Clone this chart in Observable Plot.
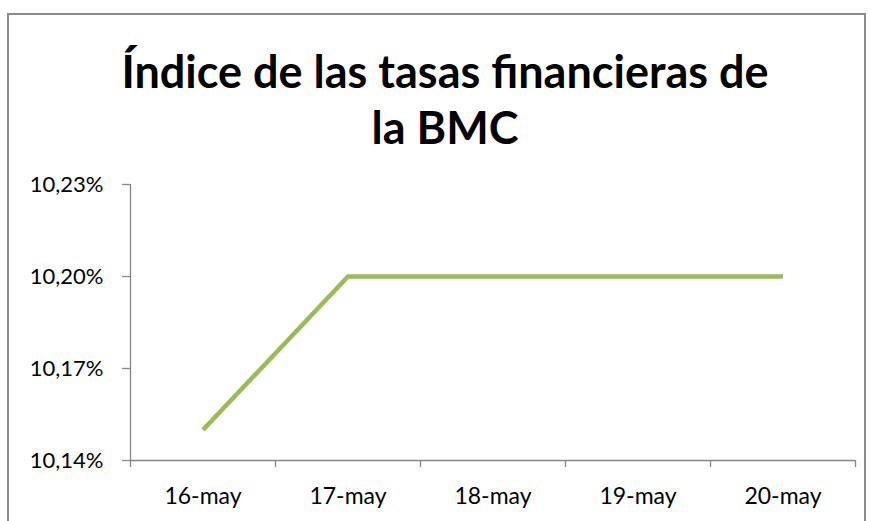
<!DOCTYPE html>
<html><head><meta charset="utf-8">
<script src="https://cdn.jsdelivr.net/npm/d3@7"></script>
<script src="https://cdn.jsdelivr.net/npm/@observablehq/plot@0.6"></script>
<style>
html,body{margin:0;padding:0;background:#fff;overflow:hidden;}
#wrap{position:relative;width:871px;height:521px;}
#frame{position:absolute;left:7px;top:13px;width:859px;height:520px;border:2px solid #8c8c8c;box-sizing:border-box;}
#title{position:absolute;left:0;top:43px;width:890px;text-align:center;font-family:Lato,"Open Sans",sans-serif;font-weight:bold;font-size:45px;line-height:56px;color:#000;}
#chart{position:absolute;left:0;top:0;}
</style></head><body>
<div id="wrap"><div id="frame"></div><div id="title">Índice de las tasas financieras de<br>la BMC</div><div id="chart"></div></div>
<script>
const dates = ["16-may","17-may","18-may","19-may","20-may"];
const rates = [0.1015, 0.1020, 0.1020, 0.1020, 0.1020];
const yTicks = [0.1014, 0.1017, 0.1020, 0.1023];

const data = dates.map((d,i)=>({i:i+0.5, d, v:rates[i]}));
const bounds = d3.range(dates.length+1);
const fmt = v => (v*100).toFixed(2).replace(".", ",") + "%";
const gray = "#868686";

const plot = Plot.plot({
  width: 871, height: 521,
  marginLeft: 130, marginRight: 16, marginTop: 184, marginBottom: 61,
  style: {fontFamily: "Lato, 'Open Sans', sans-serif", fontSize: "22px", color: "#000", background: "transparent"},
  x: {domain: [0, dates.length]},
  y: {domain: [yTicks[0], yTicks[yTicks.length-1]]},
  marks: [
    Plot.axisY({ticks: yTicks, tickFormat: fmt, tickSize: 8, tickPadding: 19, stroke: gray, strokeWidth: 1.3, label: null, fontSize: 22, fill: "#000"}),
    Plot.axisX({ticks: bounds, tickFormat: () => "", tickSize: 7, stroke: gray, strokeWidth: 1.3, label: null}),
    Plot.axisX({ticks: data.map(d=>d.i), tickFormat: (v) => dates[Math.floor(v)], tickSize: 0, tickPadding: 27, label: null, fontSize: 23, fill: "#000"}),
    Plot.ruleX([0], {stroke: gray, strokeWidth: 1.3}),
    Plot.ruleY([yTicks[0]], {stroke: gray, strokeWidth: 1.3}),
    Plot.line(data, {x: "i", y: "v", stroke: "#9BBB59", strokeWidth: 4.5, strokeLinecap: "butt"})
  ]
});
document.getElementById("chart").appendChild(plot);
</script>
</body></html>
